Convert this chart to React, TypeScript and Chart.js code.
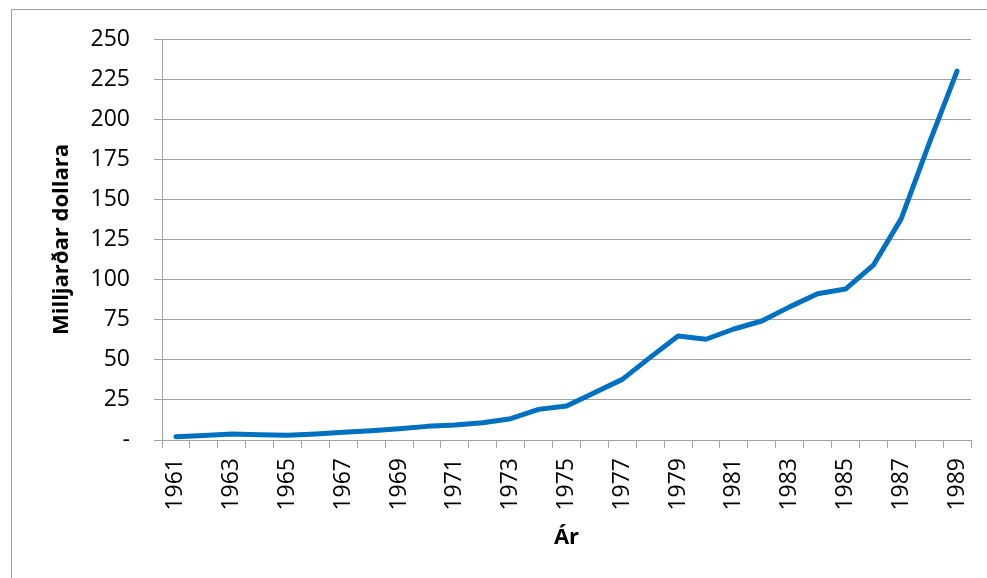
import React, { useEffect, useRef } from "react";
import { Chart, registerables } from "chart.js";

Chart.register(...registerables);

const years: string[] = [
  "1961", "1962", "1963", "1964", "1965", "1966", "1967", "1968", "1969", "1970",
  "1971", "1972", "1973", "1974", "1975", "1976", "1977", "1978", "1979", "1980",
  "1981", "1982", "1983", "1984", "1985", "1986", "1987", "1988", "1989",
];

const values: number[] = [
  2.0, 2.8, 3.7, 3.3, 2.9, 3.8, 4.8, 5.8, 7.0, 8.5,
  9.4, 10.8, 13.3, 19.1, 21.2, 29.5, 37.8, 51.5, 64.8, 62.8,
  69.2, 74.2, 83.0, 91.2, 94.1, 109, 138, 185, 230,
];

const yTitle = "Milljarðar dollara";
const xTitle = "Ár";

const FONT = "'Open Sans', 'Noto Sans', sans-serif";
const GRID = "#a0a0a0";

const framePlugin = {
  id: "frame",
  beforeDraw(chart: any) {
    const ctx = chart.ctx;
    ctx.save();
    ctx.strokeStyle = GRID;
    ctx.lineWidth = 1;
    ctx.beginPath();
    ctx.moveTo(11.5, chart.height);
    ctx.lineTo(11.5, 9.5);
    ctx.lineTo(chart.width, 9.5);
    ctx.stroke();
    ctx.restore();
  },
};

export default function App() {
  const ref = useRef<HTMLCanvasElement | null>(null);

  useEffect(() => {
    if (!ref.current) return;
    const chart = new Chart(ref.current, {
      type: "line",
      data: {
        labels: years,
        datasets: [
          {
            data: values,
            borderColor: "#0070C0",
            backgroundColor: "#0070C0",
            borderWidth: 5,
            pointRadius: 0,
            tension: 0,
            borderCapStyle: "round",
            borderJoinStyle: "round",
            fill: false,
          },
        ],
      },
      options: {
        animation: false,
        responsive: false,
        maintainAspectRatio: false,
        layout: { padding: { top: 39, right: 16, left: 0, bottom: 0 } },
        plugins: {
          legend: { display: false },
          tooltip: { enabled: false },
          title: { display: false },
        },
        scales: {
          x: {
            type: "category",
            offset: true,
            afterFit(scale: any) {
              scale.height = 138;
              scale.paddingLeft = 0;
              scale.paddingRight = 0;
            },
            grid: {
              offset: true,
              drawOnChartArea: false,
              drawTicks: true,
              tickLength: 8,
              color: GRID,
              tickColor: GRID,
            },
            border: { display: true, color: GRID, width: 1 },
            ticks: {
              autoSkip: false,
              minRotation: 90,
              maxRotation: 90,
              padding: 10,
              color: "#000",
              font: { family: FONT, size: 23 },
              callback: (_v: any, i: number) => (i % 2 === 0 ? years[i] : ""),
            },
            title: {
              display: true,
              text: xTitle,
              color: "#000",
              font: { family: FONT, size: 22, weight: "bold" },
              padding: { top: 0, bottom: 27 },
            },
          },
          y: {
            min: 0,
            max: 250,
            afterFit(scale: any) {
              scale.width = 162;
              scale.paddingTop = 0;
              scale.paddingBottom = 0;
            },
            grid: {
              drawOnChartArea: true,
              drawTicks: true,
              tickLength: 8,
              color: GRID,
              tickColor: GRID,
            },
            border: { display: true, color: GRID, width: 1 },
            ticks: {
              stepSize: 25,
              padding: 24,
              color: "#000",
              font: { family: FONT, size: 23 },
              callback: (v: any) => (Number(v) === 0 ? "-" : String(v)),
            },
            title: {
              display: true,
              text: yTitle,
              color: "#000",
              font: { family: FONT, size: 22, weight: "bold" },
              padding: { top: 49, bottom: 0 },
            },
          },
        },
      },
      plugins: [framePlugin],
    });
    return () => chart.destroy();
  }, []);

  return (
    <div style={{ position: "fixed", left: 0, top: 0, width: 987, height: 578, background: "#fff" }}>
      <canvas ref={ref} width={987} height={578} style={{ display: "block" }} />
    </div>
  );
}
